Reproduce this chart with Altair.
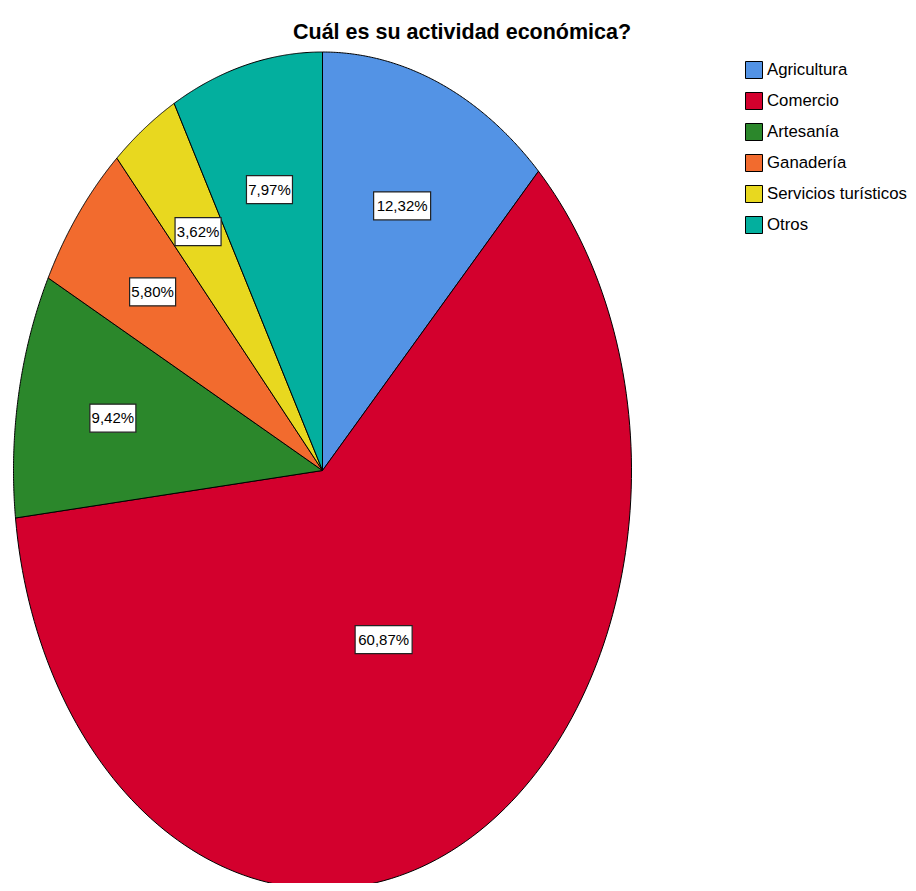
import altair as alt
import pandas as pd

# ---- data ----
categories = ["Agricultura", "Comercio", "Artesanía", "Ganadería", "Servicios turísticos", "Otros"]
percentages = [12.32, 60.87, 9.42, 5.80, 3.62, 7.97]
colors = ["#5393E5", "#D3002D", "#2B872B", "#F26B2E", "#E8D81F", "#03AF9E"]
title_text = "Cuál es su actividad económica?"

df = pd.DataFrame({"categoria": categories,
                   "porcentaje": percentages,
                   "orden": list(range(len(categories)))})

N = 150
FONT = "Liberation Sans, Arial, sans-serif"

x_scale = alt.Scale(domain=[-1.0178, 1.8948], nice=False, zero=False)
y_scale = alt.Scale(domain=[-0.98566, 1.0], nice=False, zero=False)
color_scale = alt.Scale(domain=categories, range=colors)

base = alt.Chart(df).transform_window(
    fin="sum(porcentaje)", sort=[alt.SortField("orden")], frame=[None, 0]
).transform_calculate(
    ini="datum.fin - datum.porcentaje"
)

wedges = base.transform_calculate(
    paso=f"sequence(-1, {N + 2})"
).transform_flatten(["paso"]).transform_calculate(
    ang=f"2*PI*(datum.ini + datum.porcentaje*clamp(datum.paso, 0, {N})/{N})/100"
).transform_calculate(
    centro=f"datum.paso < 0 || datum.paso > {N}"
).transform_calculate(
    px="datum.centro ? 0 : sin(datum.ang)",
    py="datum.centro ? 0 : cos(datum.ang)",
).mark_line(filled=True, stroke="black", strokeWidth=1, strokeJoin="round",
            opacity=1, fillOpacity=1).encode(
    x=alt.X("px:Q", scale=x_scale, axis=None),
    y=alt.Y("py:Q", scale=y_scale, axis=None),
    color=alt.Color("categoria:N", scale=color_scale, sort=categories,
                    legend=alt.Legend(orient="none", legendX=737, legendY=9, title=None,
                                      symbolType="square", symbolSize=289,
                                      symbolStrokeColor="black", symbolStrokeWidth=1,
                                      symbolOpacity=1,
                                      labelFont=FONT, labelFontSize=16.8, labelColor="black",
                                      rowPadding=9, labelOffset=4, labelLimit=300)),
    order=alt.Order("paso:Q"),
    detail="categoria:N",
)

labels = base.transform_calculate(
    medio="2*PI*(datum.ini + datum.porcentaje/2)/100",
    semi="PI*datum.porcentaje/100",
).transform_calculate(
    radio="max(1.05*2*sin(datum.semi)/(3*datum.semi), 0.45)"
).transform_calculate(
    lx="datum.radio*sin(datum.medio)",
    ly="datum.radio*cos(datum.medio)",
    etiqueta="replace(format(datum.porcentaje, '.2f'), '.', ',') + '%'",
).transform_calculate(
    largo="length(datum.etiqueta)"
)

enc = dict(x=alt.X("lx:Q", scale=x_scale, axis=None),
           y=alt.Y("ly:Q", scale=y_scale, axis=None))

box_short = labels.transform_filter("datum.largo <= 5").mark_rect(
    width=46, height=28, fill="white", stroke="#222222", strokeWidth=1.2
).encode(**enc)
box_long = labels.transform_filter("datum.largo > 5").mark_rect(
    width=57, height=28, fill="white", stroke="#222222", strokeWidth=1.2
).encode(**enc)
texts = labels.mark_text(font=FONT, fontSize=15, color="black",
                         align="center", baseline="middle").encode(
    text="etiqueta:N", **enc)

chart = alt.layer(wedges, box_short, box_long, texts).properties(
    width=900, height=831,
    padding={"left": 0, "top": 44, "right": 0, "bottom": 0},
    autosize=alt.AutoSizeParams(type="none"),
    title=alt.TitleParams(title_text, font=FONT, fontSize=21.5, fontWeight="bold",
                          color="black", anchor="start", dx=285, offset=8),
).configure_view(stroke=None)

chart.save("out.html", embed_options={"renderer": "svg", "actions": False})
